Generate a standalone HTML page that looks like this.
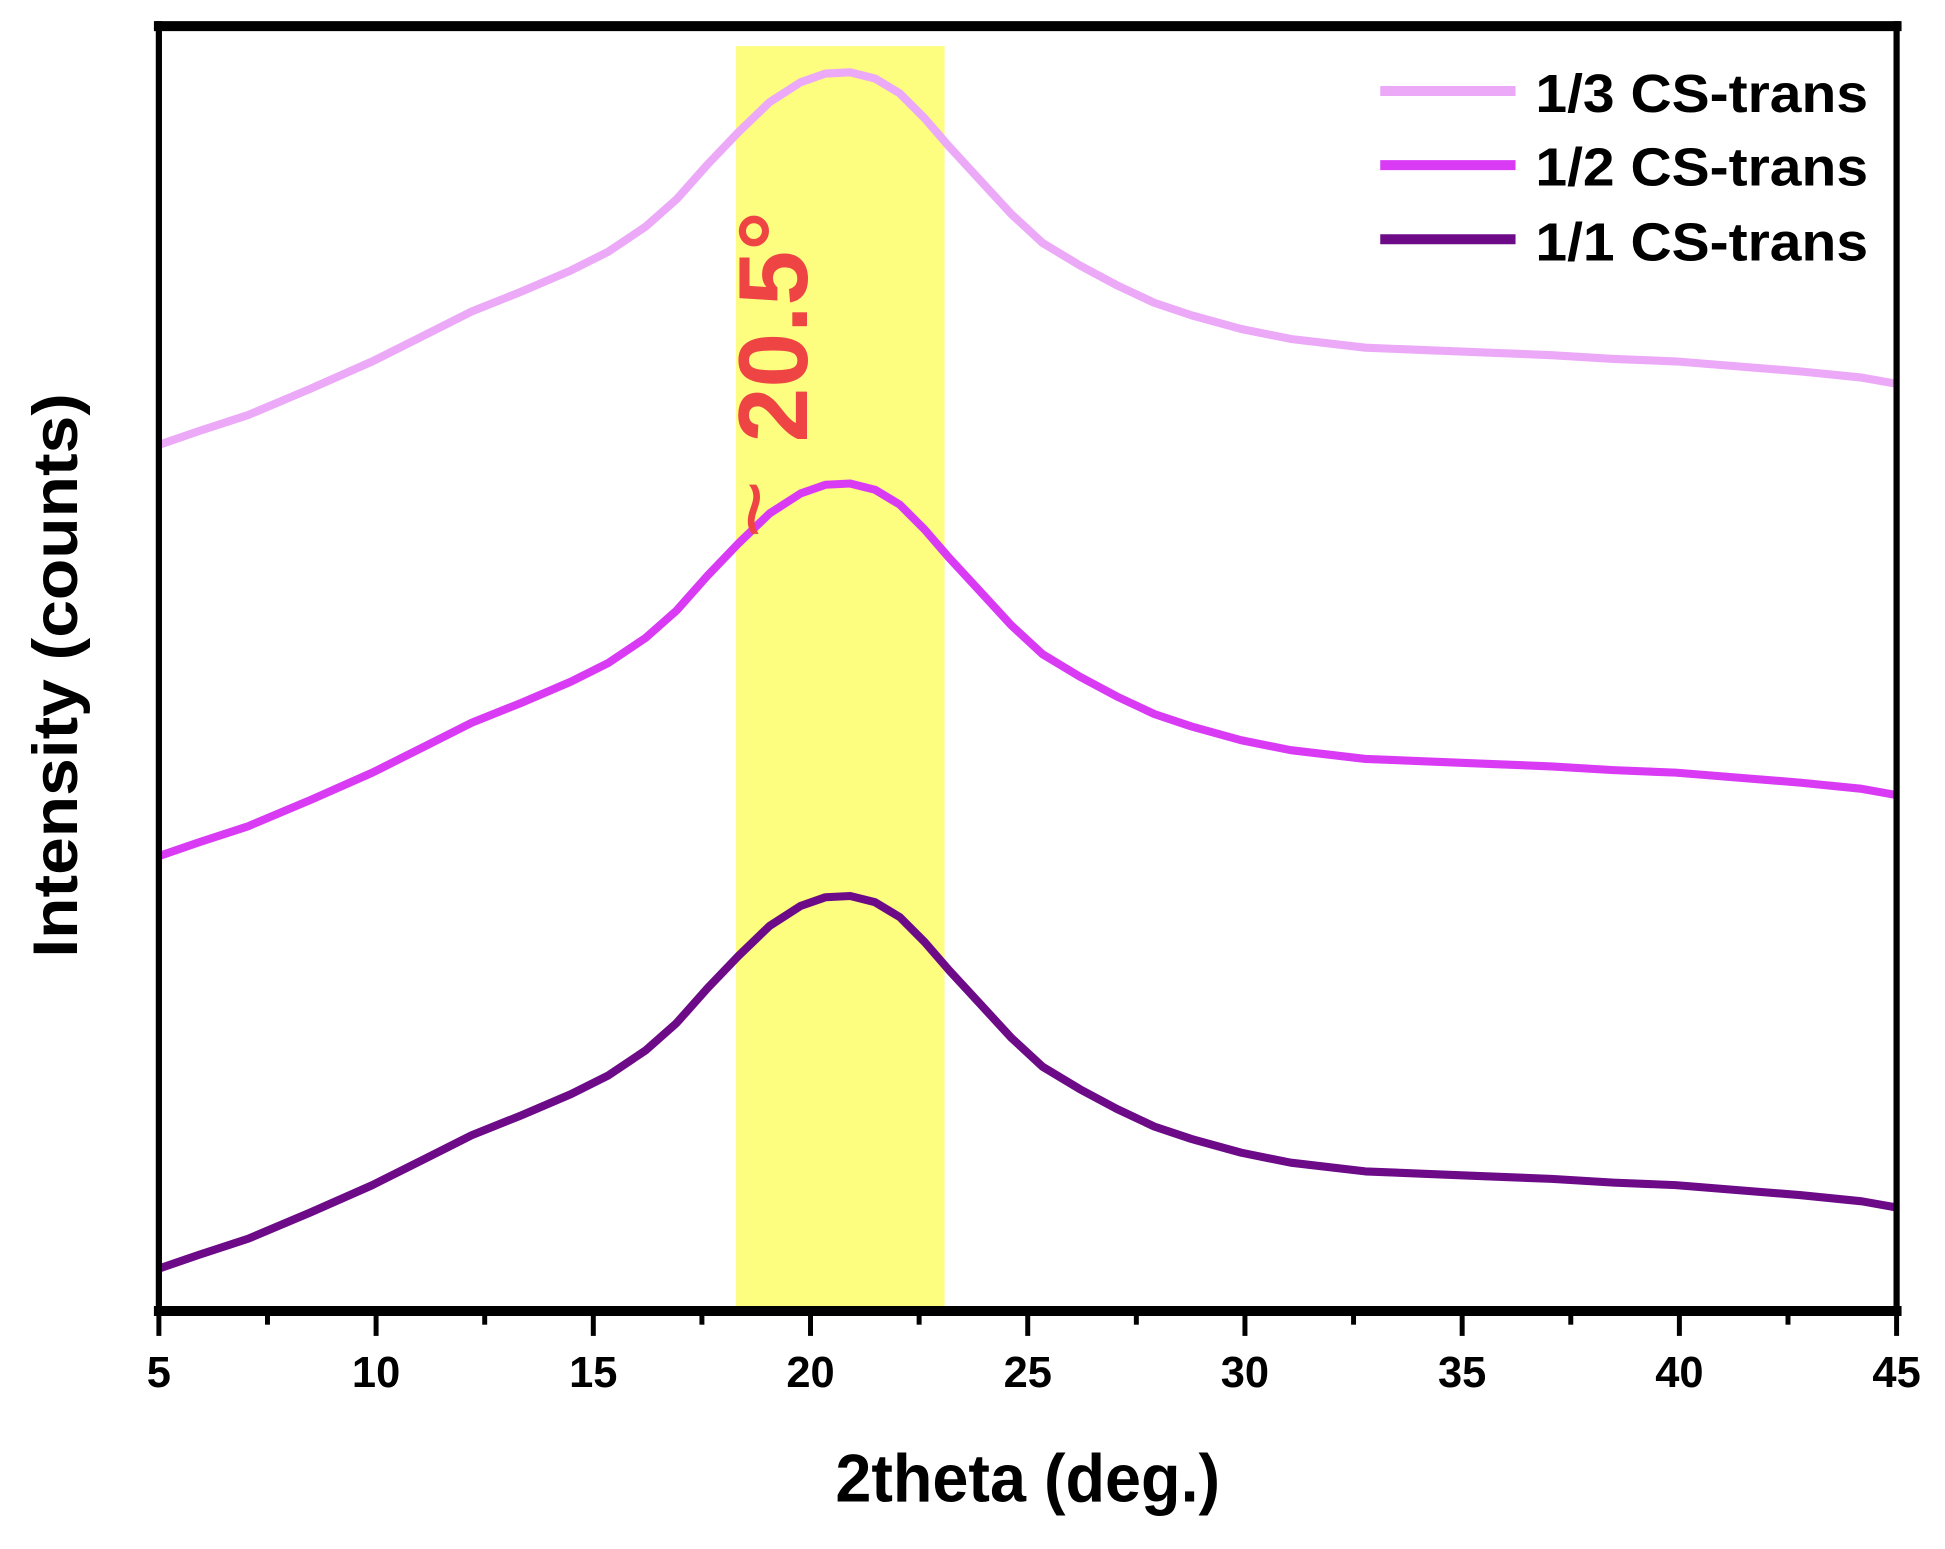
<!DOCTYPE html>
<html><head><meta charset="utf-8"><style>html,body{margin:0;padding:0;background:#fff}svg{display:block}</style></head>
<body>
<svg width="1945" height="1549" viewBox="0 0 1567 1243" preserveAspectRatio="none" xmlns="http://www.w3.org/2000/svg" font-family="Liberation Sans, Arial, sans-serif" font-weight="bold">
<rect width="1567" height="1243" fill="#fff"/>
<rect x="593" y="37" width="168" height="1012" fill="#FDFD80"/>
<defs>
<polyline id="c" points="128,357 160,346 200,333 250,312 300,290 340,270 380,250 420,234 460,217 490,202 520,182 545,160 570,132 595,106 620,82 645,66 665,59 685,58 705,63 725,75 745,95 765,118 790,145 815,172 840,195 870,213 900,229 930,243 960,253 1000,264 1040,272 1100,279 1150,281 1200,283 1250,285 1300,288 1350,290 1400,294 1450,298 1500,303 1528,308" fill="none" stroke-width="6.5" stroke-linejoin="round"/>
</defs>
<use href="#c" stroke="#EBA9F7"/>
<use href="#c" stroke="#D93BF5" transform="translate(0,330)"/>
<use href="#c" stroke="#6C0A87" transform="translate(0,661)"/>
<text transform="translate(650,355) rotate(-90)" font-size="79" fill="#EE4444">20.5°</text>
<text transform="translate(634,432) rotate(-90)" font-size="80" font-weight="normal" fill="#EE4444">~</text>
<g stroke="#000">
<line x1="124" y1="21" x2="1532" y2="21" stroke-width="8"/>
<line x1="124" y1="1052" x2="1532" y2="1052" stroke-width="8"/>
<line x1="128" y1="17" x2="128" y2="1056" stroke-width="5"/>
<line x1="1528" y1="17" x2="1528" y2="1056" stroke-width="5"/>
<g stroke-width="4">
<line x1="128" y1="1052" x2="128" y2="1072"/><line x1="303" y1="1052" x2="303" y2="1072"/><line x1="478" y1="1052" x2="478" y2="1072"/><line x1="653" y1="1052" x2="653" y2="1072"/><line x1="828" y1="1052" x2="828" y2="1072"/><line x1="1003" y1="1052" x2="1003" y2="1072"/><line x1="1178" y1="1052" x2="1178" y2="1072"/><line x1="1353" y1="1052" x2="1353" y2="1072"/><line x1="1528" y1="1052" x2="1528" y2="1072"/>
<line x1="215.5" y1="1052" x2="215.5" y2="1063"/><line x1="390.5" y1="1052" x2="390.5" y2="1063"/><line x1="565.5" y1="1052" x2="565.5" y2="1063"/><line x1="740.5" y1="1052" x2="740.5" y2="1063"/><line x1="915.5" y1="1052" x2="915.5" y2="1063"/><line x1="1090.5" y1="1052" x2="1090.5" y2="1063"/><line x1="1265.5" y1="1052" x2="1265.5" y2="1063"/><line x1="1440.5" y1="1052" x2="1440.5" y2="1063"/>
</g></g>
<g font-size="35" text-anchor="middle" fill="#000">
<text x="128" y="1113">5</text><text x="303" y="1113">10</text><text x="478" y="1113">15</text><text x="653" y="1113">20</text><text x="828" y="1113">25</text><text x="1003" y="1113">30</text><text x="1178" y="1113">35</text><text x="1353" y="1113">40</text><text x="1528" y="1113">45</text>
</g>
<text x="673" y="1205" font-size="54" textLength="310" lengthAdjust="spacingAndGlyphs">2theta (deg.)</text>
<text transform="translate(62,542) rotate(-90)" font-size="51" text-anchor="middle" textLength="453" lengthAdjust="spacingAndGlyphs">Intensity (counts)</text>
<g stroke-width="8">
<line x1="1112" y1="73" x2="1221" y2="73" stroke="#EBA9F7"/>
<line x1="1112" y1="132.5" x2="1221" y2="132.5" stroke="#D93BF5"/>
<line x1="1112" y1="192" x2="1221" y2="192" stroke="#6C0A87"/>
</g>
<g font-size="43" fill="#000">
<text x="1237" y="90" textLength="268" lengthAdjust="spacingAndGlyphs">1/3 CS-trans</text>
<text x="1237" y="149" textLength="268" lengthAdjust="spacingAndGlyphs">1/2 CS-trans</text>
<text x="1237" y="209" textLength="268" lengthAdjust="spacingAndGlyphs">1/1 CS-trans</text>
</g>
</svg>
</body></html>
